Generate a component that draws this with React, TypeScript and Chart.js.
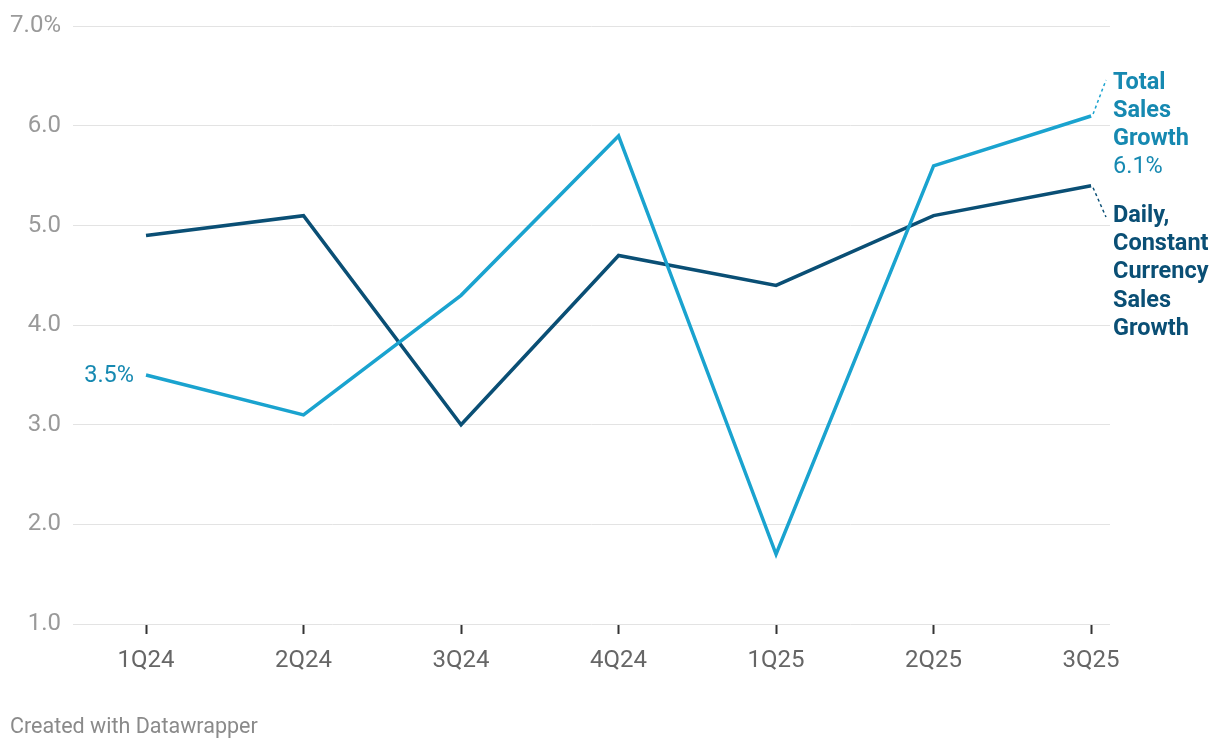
import React, { useEffect, useRef } from "react";
import { Chart, registerables } from "chart.js";

Chart.register(...registerables);

const categories = ["1Q24", "2Q24", "3Q24", "4Q24", "1Q25", "2Q25", "3Q25"];
const totalSales = [3.5, 3.1, 4.3, 5.9, 1.7, 5.6, 6.1];
const dailyConstant = [4.9, 5.1, 3.0, 4.7, 4.4, 5.1, 5.4];
const yTicks = [1, 2, 3, 4, 5, 6, 7];

const LIGHT = "#1aa3cf";
const LIGHT_TEXT = "#1689b1";
const DARK = "#0a4f75";
const FONT = "Roboto";

const annotations = {
  id: "annotations",
  afterDatasetsDraw(chart: any) {
    const ctx = chart.ctx;
    const xs = chart.scales.x;
    const ys = chart.scales.y;
    ctx.save();
    // start label
    ctx.font = `23.5px ${FONT}`;
    ctx.fillStyle = LIGHT_TEXT;
    ctx.textAlign = "right";
    ctx.textBaseline = "middle";
    ctx.fillText("3.5%", xs.getPixelForValue(0) - 12, ys.getPixelForValue(totalSales[0]) + 1);

    const lx = 1113;
    const lastX = xs.getPixelForValue(6);
    const tY = ys.getPixelForValue(totalSales[6]);
    const dY = ys.getPixelForValue(dailyConstant[6]);
    ctx.setLineDash([3, 3]);
    ctx.lineWidth = 1.5;
    ctx.strokeStyle = LIGHT;
    ctx.beginPath();
    ctx.moveTo(lastX + 2, tY - 2);
    ctx.lineTo(lx - 7, 80);
    ctx.stroke();
    ctx.strokeStyle = DARK;
    ctx.beginPath();
    ctx.moveTo(lastX + 2, dY + 2);
    ctx.lineTo(lx - 7, 217);
    ctx.stroke();
    ctx.setLineDash([]);

    ctx.textAlign = "left";
    ctx.font = `bold 23.5px ${FONT}`;
    ctx.fillStyle = LIGHT_TEXT;
    ["Total", "Sales", "Growth"].forEach((t, i) => ctx.fillText(t, lx, 83 + i * 28));
    ctx.font = `23.5px ${FONT}`;
    ctx.fillText("6.1%", lx, 83 + 3 * 28);

    ctx.font = `bold 23.5px ${FONT}`;
    ctx.fillStyle = DARK;
    ["Daily,", "Constant", "Currency", "Sales", "Growth"].forEach((t, i) =>
      ctx.fillText(t, lx, 216 + i * 28.3)
    );

    // footer
    ctx.font = `21.5px ${FONT}`;
    ctx.fillStyle = "#8a8a8a";
    ctx.fillText("Created with Datawrapper", 10, 728);
    ctx.restore();
  },
};

export default function App() {
  const ref = useRef<HTMLCanvasElement>(null);
  useEffect(() => {
    const chart = new Chart(ref.current!, {
      type: "line",
      data: {
        labels: categories,
        datasets: [
          {
            label: "Total Sales Growth",
            data: totalSales.map((v, i) => ({ x: i, y: v })),
            borderColor: LIGHT,
            borderWidth: 3.5,
            pointRadius: 0,
            tension: 0,
          },
          {
            label: "Daily, Constant Currency Sales Growth",
            data: dailyConstant.map((v, i) => ({ x: i, y: v })),
            borderColor: DARK,
            borderWidth: 3.5,
            pointRadius: 0,
            tension: 0,
          },
        ],
      },
      options: {
        animation: false,
        responsive: false,
        layout: { padding: { top: 23.5, right: 110, left: 0, bottom: 0 } },
        plugins: { legend: { display: false }, tooltip: { enabled: false } },
        scales: {
          x: {
            type: "linear",
            min: -0.4635,
            max: 6.12,
            afterBuildTicks: (s: any) => {
              s.ticks = categories.map((_, i) => ({ value: i }));
            },
            afterFit: (s: any) => {
              s.height = 126;
            },
            ticks: {
              callback: (v: any) => categories[v],
              color: "#666",
              font: { family: FONT, size: 24 },
              padding: 13,
              maxRotation: 0,
              autoSkip: false,
            },
            grid: {
              drawOnChartArea: false,
              drawTicks: true,
              tickLength: 10,
              tickWidth: 2,
              tickColor: "#333",
            },
            border: { display: false },
          },
          y: {
            min: 1,
            max: 7,
            afterBuildTicks: (s: any) => {
              s.ticks = yTicks.map((v) => ({ value: v }));
            },
            afterFit: (s: any) => {
              s.width = 73;
            },
            ticks: {
              callback: (v: any) => (v === 7 ? "7.0%" : Number(v).toFixed(1)),
              color: "#9a9a9a",
              font: { family: FONT, size: 24 },
              padding: 12,
            },
            grid: { color: "#e3e3e3", lineWidth: 1, drawTicks: false },
            border: { display: false },
          },
        },
      },
      plugins: [annotations],
    } as any);
    return () => chart.destroy();
  }, []);
  return (
    <div style={{ position: "absolute", left: 0, top: 0, width: 1220, height: 750, background: "#fff" }}>
      <canvas ref={ref} width={1220} height={750} />
    </div>
  );
}
